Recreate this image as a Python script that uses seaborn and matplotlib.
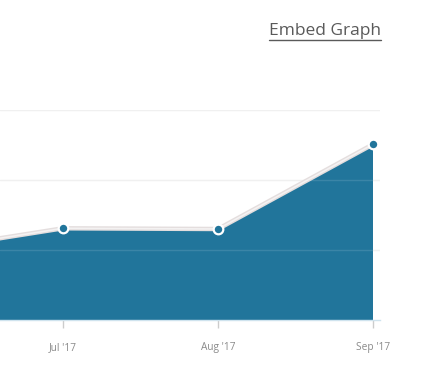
import matplotlib
matplotlib.use("Agg")
import matplotlib.pyplot as plt
import seaborn as sns
import pandas as pd

months = ["Jun '17", "Jul '17", "Aug '17", "Sep '17"]
values = [0.96, 1.31, 1.30, 2.51]
tick_labels = ["Jul '17", "Aug '17", "Sep '17"]
grid_levels = [1, 2, 3]

sns.set_theme(style="white")
plt.rcParams['font.family'] = ['Open Sans', 'DejaVu Sans']

df = pd.DataFrame({"x": range(len(months)), "y": values})

fig = plt.figure(figsize=(4.4, 3.67), dpi=100)
ax = fig.add_axes([0, 47/367, 380/440, 210/367])

fill_color = "#21759b"
ax.fill_between(df["x"], df["y"], 0, color=fill_color, zorder=2, linewidth=0)
for g in grid_levels:
    ax.axhline(g, color="white", alpha=0.12, linewidth=1, zorder=2.5)
sns.lineplot(data=df, x="x", y="y", ax=ax, color="#e4dede", linewidth=3.2, zorder=3)
ax.plot(df["x"], df["y"], color="#f4f2f2", linewidth=1.2, zorder=3.5)
sns.scatterplot(data=df, x="x", y="y", ax=ax, color=fill_color, s=48,
                edgecolor="white", linewidth=1.6, zorder=4, clip_on=False)

ax.set_xlim(1 - 63/155, 3 + 7/155)
ax.set_ylim(0, 3)
ax.set_yticks(grid_levels)
ax.set_yticklabels([])
ax.yaxis.grid(True, color="#eeeeee", linewidth=1)
ax.set_axisbelow(True)
ax.set_xticks([1, 2, 3])
ax.set_xticklabels(tick_labels, fontsize=7.3, color="#8a8a8a")
ax.tick_params(axis="x", length=6, width=1, color="#cccccc", pad=10, bottom=True)
ax.tick_params(axis="y", length=0)
ax.set_xlabel("")
ax.set_ylabel("")
for s in ["top", "right", "left"]:
    ax.spines[s].set_visible(False)
ax.spines["bottom"].set_color("#cfe3ee")
ax.spines["bottom"].set_linewidth(1)

fig.text(325/440, 1 - 31/367, "Embed Graph", ha="center", va="center",
         fontsize=12.5, color="#5a5a5a")
fig.add_artist(plt.Line2D([269/440, 381/440], [1 - 40/367, 1 - 40/367],
                          color="#5a5a5a", linewidth=1, transform=fig.transFigure))

fig.savefig("out.png", dpi=100)
